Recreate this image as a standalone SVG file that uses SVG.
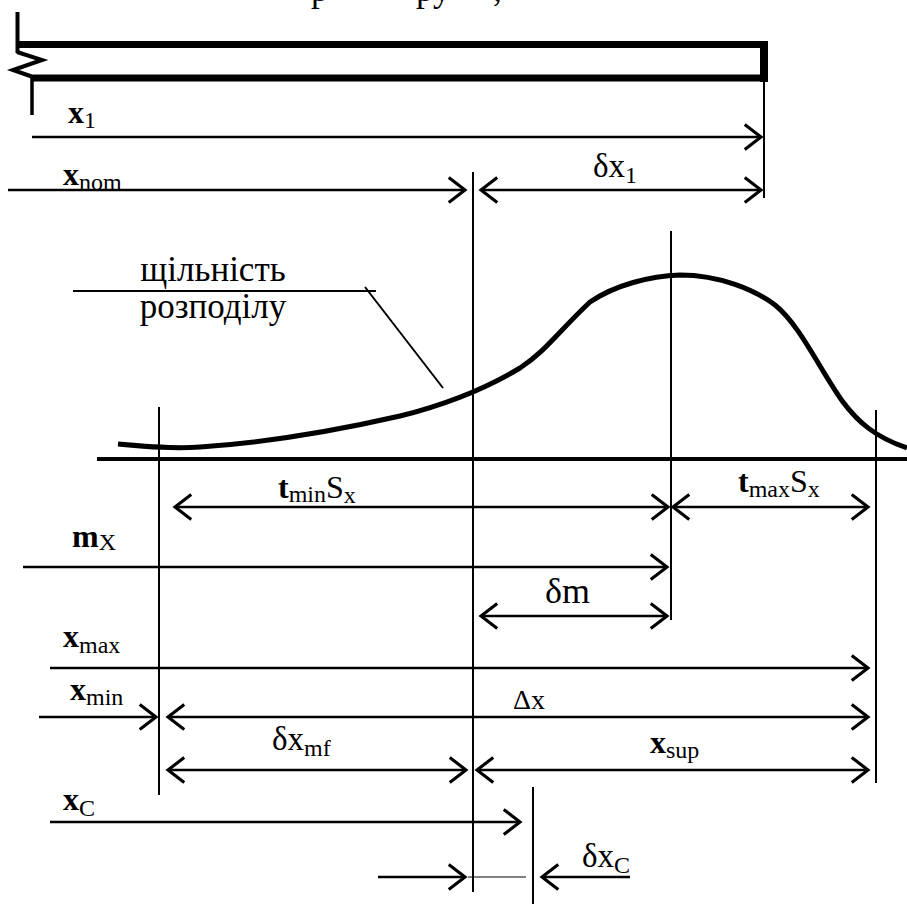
<svg xmlns="http://www.w3.org/2000/svg" width="907" height="904" viewBox="0 0 907 904">
<style>
text { font-family: "Liberation Serif", "Times New Roman", serif; fill: #000; }
.lbl { font-size: 32px; }
.dl { font-size: 33px; }
.sub { font-size: 24px; }
.b { font-weight: bold; }
.cap { font-size: 35px; }
.ext { stroke: #000; stroke-width: 2; fill: none; }
.dim { stroke: #000; stroke-width: 2.5; fill: none; }
.thick { stroke: #000; fill: none; }
</style>
<defs>
<marker id="ah" markerUnits="userSpaceOnUse" markerWidth="30" markerHeight="30" viewBox="-16 -12 20 24" refX="0" refY="0" orient="auto-start-reverse">
<path d="M-13,-10 L0,0 L-13,10" fill="none" stroke="#000" stroke-width="2.5"/>
</marker>
</defs>
<rect width="907" height="904" fill="#fff"/>

<g id="caption-fragment">
<text class="cap" x="311" y="0.5">р</text>
<text class="cap" x="416" y="0.5">ру</text>
<text class="cap" x="493" y="0.5">,</text>
</g>

<g id="bar">
<line class="thick" x1="18" y1="44.5" x2="768" y2="44.5" stroke-width="7"/>
<line class="thick" x1="33" y1="78" x2="768" y2="78" stroke-width="7"/>
<rect x="760" y="41" width="8" height="41" fill="#000"/>
<line class="thick" x1="17.5" y1="12" x2="17.5" y2="53" stroke-width="4"/>
<polyline class="thick" points="17,52 42,60 13,70 33,77" stroke-width="4" stroke-linejoin="miter"/>
<line class="thick" x1="32" y1="76" x2="32" y2="115" stroke-width="3.5"/>
</g>

<g id="axis-and-curve">
<line class="thick" x1="97" y1="459" x2="907" y2="459" stroke-width="4"/>
<path class="thick" stroke-width="5" d="M118,444 C150,447 175,449 200,447 C260,443 330,432 400,416 C440,406 480,392 520,368 C545,352 560,330 590,302 C615,285 650,276 680,275 C720,275 755,290 775,305 C800,325 820,370 843,402 C858,422 875,437 907,448"/>
</g>

<g id="density-label">
<text class="cap" x="213" y="281" text-anchor="middle">щільність</text>
<text class="cap" x="213" y="318" text-anchor="middle">розподілу</text>
<line class="ext" x1="73" y1="291" x2="376" y2="291"/>
<line class="ext" x1="365" y1="287" x2="443" y2="388"/>
</g>

<g id="extension-lines">
<line class="ext" x1="764" y1="82" x2="764" y2="198"/>
<line class="ext" x1="473" y1="172" x2="473" y2="892"/>
<line class="ext" x1="671" y1="231" x2="671" y2="620"/>
<line class="ext" x1="159" y1="407" x2="159" y2="795"/>
<line class="ext" x1="876" y1="410" x2="876" y2="783"/>
<line class="ext" x1="533" y1="787" x2="533" y2="904"/>
</g>

<g id="connectors">
<line class="dim" x1="32" y1="137" x2="761" y2="137" marker-end="url(#ah)"/>
<line class="dim" x1="8" y1="190" x2="465" y2="190" marker-end="url(#ah)"/>
<line class="dim" x1="481" y1="190" x2="761" y2="190" marker-start="url(#ah)" marker-end="url(#ah)"/>
<line class="dim" x1="175" y1="507" x2="668" y2="507" marker-start="url(#ah)" marker-end="url(#ah)"/>
<line class="dim" x1="673" y1="507" x2="868" y2="507" marker-start="url(#ah)" marker-end="url(#ah)"/>
<line class="dim" x1="23" y1="567" x2="667" y2="567" marker-end="url(#ah)"/>
<line class="dim" x1="481" y1="616" x2="667" y2="616" marker-start="url(#ah)" marker-end="url(#ah)"/>
<line class="dim" x1="50" y1="668" x2="868" y2="668" marker-end="url(#ah)"/>
<line class="dim" x1="39" y1="717" x2="156" y2="717" marker-end="url(#ah)"/>
<line class="dim" x1="168" y1="717" x2="868" y2="717" marker-start="url(#ah)" marker-end="url(#ah)"/>
<line class="dim" x1="168" y1="770" x2="466" y2="770" marker-start="url(#ah)" marker-end="url(#ah)"/>
<line class="dim" x1="477" y1="770" x2="868" y2="770" marker-start="url(#ah)" marker-end="url(#ah)"/>
<line class="dim" x1="50" y1="822" x2="520" y2="822" marker-end="url(#ah)"/>
<line class="dim" x1="378" y1="877" x2="465" y2="877" marker-end="url(#ah)"/>
<line stroke="#000" stroke-width="1" x1="468" y1="877" x2="526" y2="877"/>
<line class="dim" x1="630" y1="877" x2="542" y2="877" marker-end="url(#ah)"/>
</g>

<g id="labels">
<text class="lbl" x="68" y="123"><tspan class="b">x</tspan><tspan class="sub" dy="5">1</tspan></text>
<text class="lbl" x="63" y="185"><tspan class="b">x</tspan><tspan class="sub" dy="5">nom</tspan></text>
<text class="dl" x="593" y="177">δx<tspan class="sub" dy="6">1</tspan></text>
<text class="lbl" x="278" y="498"><tspan class="b">t</tspan><tspan class="sub" dy="4">min</tspan><tspan dy="-4">S</tspan><tspan class="sub" dy="5">x</tspan></text>
<text class="lbl" x="738" y="492"><tspan class="b">t</tspan><tspan class="sub" dy="5">max</tspan><tspan dy="-5">S</tspan><tspan class="sub" dy="5">x</tspan></text>
<text class="lbl" x="72" y="547"><tspan class="b">m</tspan><tspan class="sub" dy="3">X</tspan></text>
<text class="dl" x="545" y="603" style="font-size:36px">δm</text>
<text class="lbl" x="63" y="647"><tspan class="b">x</tspan><tspan class="sub" dy="6">max</tspan></text>
<text class="lbl" x="70" y="700"><tspan class="b">x</tspan><tspan class="sub" dy="5">min</tspan></text>
<text x="513" y="709" style="font-size:28px">Δx</text>
<text class="dl" x="272" y="750">δx<tspan class="sub" dy="6">mf</tspan></text>
<text class="lbl" x="650" y="753"><tspan class="b">x</tspan><tspan class="sub" dy="5">sup</tspan></text>
<text class="lbl" x="63" y="810"><tspan class="b">x</tspan><tspan class="sub" dy="6">C</tspan></text>
<text class="dl" x="582" y="867">δx<tspan class="sub" dy="6">C</tspan></text>
</g>
</svg>
